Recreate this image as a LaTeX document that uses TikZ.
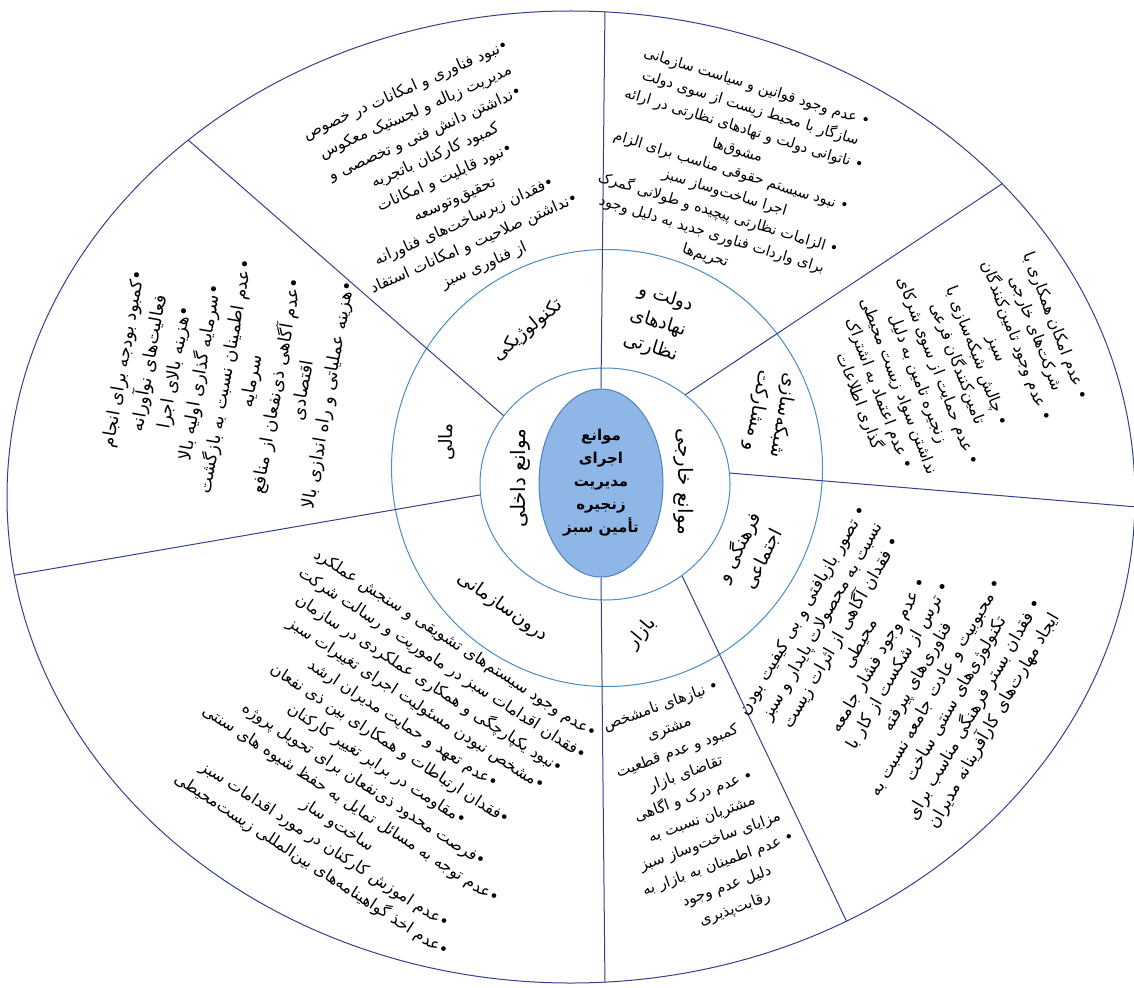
\documentclass[tikz,border=0pt]{standalone}
\usepackage{fontspec}
\usetikzlibrary{shapes.geometric}
\newfontfamily\fa[Script=Arabic]{DejaVu Sans}
\TeXXeTstate=1
\definecolor{lineNavy}{HTML}{34408C}
\definecolor{ringBlue}{HTML}{4A8CC4}
\definecolor{coreFill}{HTML}{8EB6E6}
\definecolor{coreEdge}{HTML}{4F82C2}
\newcommand{\faline}[1]{\beginR#1\endR}

\begin{document}
\begin{tikzpicture}[x=1pt,y=-1pt,
    divider/.style={draw=lineNavy, line width=1pt},
    ring/.style={ellipse, draw=ringBlue, line width=1pt, inner sep=0pt},
    secttext/.style={align=center, inner sep=0pt, font=\fa\fontsize{16}{22}\selectfont},
    ringlabel/.style={align=center, inner sep=0pt, font=\fa\fontsize{18.5}{26}\selectfont}]
    \useasboundingbox (0,0) rectangle (1134,987);
    \node[ring, draw=lineNavy, minimum width=1128pt, minimum height=972pt] (outer) at (571,497) {};
    \node[ring, minimum width=431pt, minimum height=437pt] (middle) at (607,468) {};
    \node[ring, minimum width=250pt, minimum height=232pt] (inner) at (605,484) {};
    \node[ellipse, fill=coreFill, draw=coreEdge, line width=1pt, minimum width=124pt, minimum height=188pt,
        inner sep=0pt, align=center, font=\fa\bfseries\fontsize{15}{23}\selectfont] (core) at (601,483)
        {\faline{موانع}\\\faline{اجرای}\\\faline{مدیریت}\\\faline{زنجیره}\\\faline{تأمین سبز}};
    % dividers
    \draw[divider] (core.north) -- (outer.86.5);
    \draw[divider] (inner.48) -- (outer.36);
    \draw[divider] (inner.5) -- (outer.-1);
    \draw[divider] (inner.-50) -- (outer.-57);
    \draw[divider] (core.south) -- (outer.-86.5);
    \draw[divider] (inner.185) -- (outer.188);
    \draw[divider] (inner.146) -- (outer.137);
    % inner ring
    \node[ringlabel, font=\fa\fontsize{20}{26}\selectfont, rotate=90] (inlab) at (520,478) {\faline{موانع داخلی}};
    \node[ringlabel, font=\fa\fontsize{20}{26}\selectfont, rotate=-90] (exlab) at (684,482) {\faline{موانع خارجی}};
    % middle ring
    \node[ringlabel, rotate=40] (techlab) at (528,330) {\faline{تکنولوژیکی}};
    \node[ringlabel, rotate=-17] (govlab) at (658,323) {\faline{دولت و}\\\faline{نهادهای}\\\faline{نظارتی}};
    \node[ringlabel, rotate=-100] (netlab) at (770,413) {\faline{شبکه‌سازی}\\\faline{و مشارکت}};
    \node[ringlabel, rotate=63] (culab) at (750,553) {\faline{فرهنگی و}\\\faline{اجتماعی}};
    \node[ringlabel, rotate=50] (mktlab) at (642,633) {\faline{بازار}};
    \node[ringlabel, rotate=-35] (orglab) at (503,607) {\faline{درون‌سازمانی}};
    \node[ringlabel, rotate=90] (finlab) at (447,442) {\faline{مالی}};
    % outer ring
    \node[secttext, font=\fa\fontsize{15.5}{24}\selectfont, rotate=24] (techtxt) at (445,178) {
        \faline{•نبود فناوری و امکانات در خصوص}\\
        \faline{مدیریت زباله و لجستیک معکوس}\\
        \faline{•نداشتن دانش فنی و تخصصی و}\\
        \faline{کمبود کارکنان باتجربه}\\
        \faline{•نبود قابلیت و امکانات}\\
        \faline{تحقیق‌وتوسعه}\\
        \faline{•فقدان زیرساخت‌های فناورانه}\\
        \faline{•نداشتن صلاحیت و امکانات استفاد}\\
        \faline{از فناوری سبز}};
    \node[secttext, font=\fa\fontsize{14.5}{22}\selectfont, rotate=-17] (govtxt) at (731,172) {
        \faline{• عدم وجود قوانین و سیاست سازمانی}\\
        \faline{سازگار با محیط زیست از سوی دولت}\\
        \faline{• ناتوانی دولت و نهادهای نظارتی در ارائه}\\
        \faline{مشوق‌ها}\\
        \faline{• نبود سیستم حقوقی مناسب برای الزام}\\
        \faline{اجرا ساخت‌وساز سبز}\\
        \faline{• الزامات نظارتی پیچیده و طولانی گمرک}\\
        \faline{برای واردات فناوری جدید به دلیل وجود}\\
        \faline{تحریم‌ها}};
    \node[secttext, font=\fa\fontsize{16}{21}\selectfont, rotate=-69] (nettxt) at (957,364) {
        \faline{• عدم امکان همکاری با}\\
        \faline{شرکت‌های خارجی}\\
        \faline{• عدم وجود تامین‌کنندگان}\\
        \faline{سبز}\\
        \faline{• چالش شبکه‌سازی با}\\
        \faline{تامین‌کنندگان فرعی}\\
        \faline{• عدم حمایت از سوی شرکای}\\
        \faline{زنجیره تامین به دلیل}\\
        \faline{نداشتن سواد زیست محیطی}\\
        \faline{• عدم اعتماد به اشتراک}\\
        \faline{گذاری اطلاعات}};
    \node[secttext, font=\fa\fontsize{17}{22}\selectfont, rotate=60] (cultxt) at (899,666) {
        \faline{• تصور بازیافتی و بی کیفیت بودن}\\
        \faline{نسبت به محصولات پایدار و سبز}\\
        \faline{• فقدان آگاهی از اثرات زیست}\\
        \faline{محیطی}\\
        \faline{• عدم وجود فشار جامعه}\\
        \faline{• ترس از شکست از کار با}\\
        \faline{فناوری‌های پیرفته}\\
        \faline{• محبوبیت و عادت جامعه نسبت به}\\
        \faline{تکنولوژی‌های سنتی ساخت}\\
        \faline{• فقدان بستر فرهنگی مناسب برای}\\
        \faline{ایجاد مهارت‌های کارآفرینانه مدیران}};
    \node[secttext, font=\fa\fontsize{15}{24}\selectfont, rotate=20] (mkttxt) at (698,808) {
        \faline{• نیازهای نامشخص}\\
        \faline{مشتری}\\
        \faline{کمبود و عدم قطعیت}\\
        \faline{تقاضای بازار}\\
        \faline{• عدم درک و اگاهی}\\
        \faline{مشتریان نسبت به}\\
        \faline{مزایای ساخت‌وساز سبز}\\
        \faline{• عدم اطمینان به بازار به}\\
        \faline{دلیل عدم وجود}\\
        \faline{رقابت‌پذیری}};
    \node[secttext, font=\fa\fontsize{16}{24}\selectfont, rotate=-33] (orgtxt) at (383,755) {
        \faline{•عدم وجود سیستم‌های تشویقی و سنجش عملکرد}\\
        \faline{•فقدان اقدامات سبز در ماموریت و رسالت شرکت}\\
        \faline{•نبود یکپارچگی و همکاری عملکردی در سازمان}\\
        \faline{•مشخص نبودن مسئولیت اجرای تغییرات سبز}\\
        \faline{•عدم تعهد و حمایت مدیران ارشد}\\
        \faline{•فقدان ارتباطات و همکارای بین ذی نفعان}\\
        \faline{•مقاومت در برابر تغییر کارکنان}\\
        \faline{•فرصت محدود ذی‌نفعان برای تحویل پروژه}\\
        \faline{•عدم توجه به مسائل تمایل به حفظ شیوه های سنتی}\\
        \faline{ساخت‌و ساز}\\
        \faline{•عدم اموزش کارکنان در مورد اقدامات سبز}\\
        \faline{•عدم اخذ گواهینامه‌های بین‌المللی زیست‌محیطی}};
    \node[secttext, font=\fa\fontsize{17.5}{26}\selectfont, rotate=80] (fintxt) at (227,377) {
        \faline{•کمبود بودجه برای انجام}\\
        \faline{فعالیت‌های نوآورانه}\\
        \faline{•هزینه بالای اجرا}\\
        \faline{•سرمایه گذاری اولیه بالا}\\
        \faline{•عدم اطمینان نسبت به بازگشت}\\
        \faline{سرمایه}\\
        \faline{•عدم آگاهی ذی‌نفعان از منافع}\\
        \faline{اقتصادی}\\
        \faline{•هزینه عملیاتی و راه اندازی بالا}};
\end{tikzpicture}
\end{document}
